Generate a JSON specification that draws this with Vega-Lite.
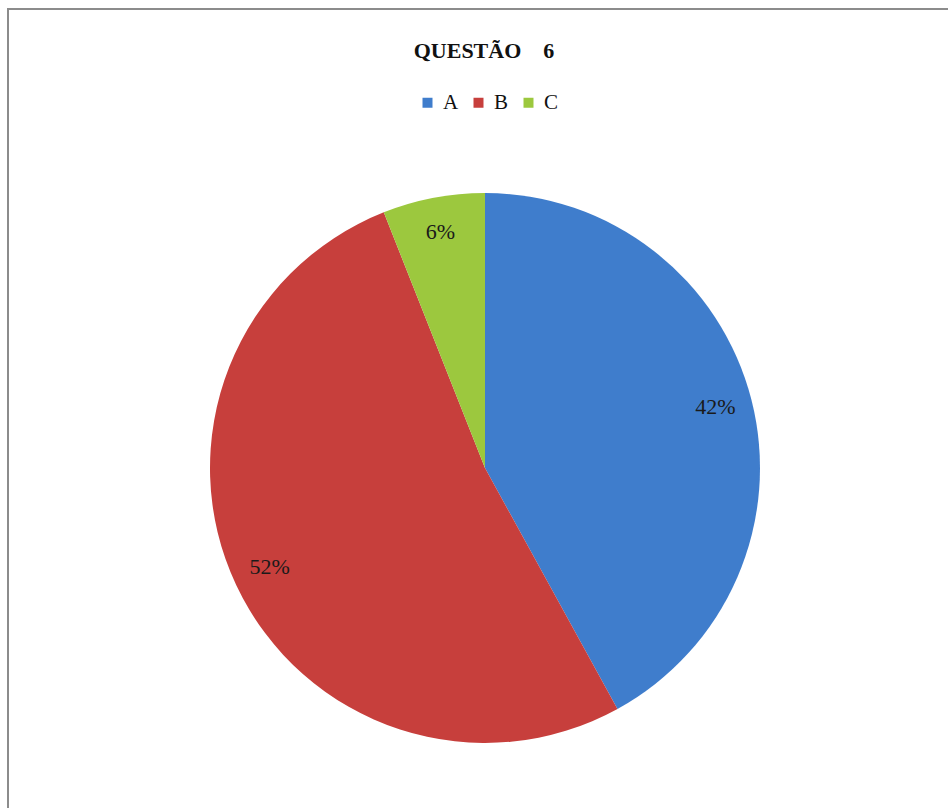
{
  "$schema": "https://vega.github.io/schema/vega-lite/v6.json",
  "autosize": {"type": "none"},
  "width": 960,
  "height": 820,
  "padding": {"left": 8, "top": 9, "right": -20, "bottom": -21},
  "background": "#ffffff",
  "view": {"stroke": "#8c8c8c", "strokeWidth": 2},
  "title": {
    "text": "QUESTÃO\u00a0\u00a0\u00a0\u00a06",
    "orient": "top",
    "anchor": "middle",
    "frame": "group",
    "offset": -54,
    "dx": -4,
    "font": "Liberation Serif",
    "fontSize": 22,
    "fontWeight": "bold",
    "color": "#111111"
  },
  "data": {
    "values": [
      {"resposta": "A", "percentual": 42, "rotulo": "42%"},
      {"resposta": "B", "percentual": 52, "rotulo": "52%"},
      {"resposta": "C", "percentual": 6, "rotulo": "6%"}
    ]
  },
  "encoding": {
    "theta": {"field": "percentual", "type": "quantitative", "stack": true},
    "order": {"field": "resposta", "type": "nominal"}
  },
  "layer": [
    {
      "mark": {
        "type": "arc",
        "outerRadius": 275,
        "x": {"expr": "width/2-3"},
        "y": {"expr": "height/2+49"}
      },
      "encoding": {
        "color": {
          "field": "resposta",
          "type": "nominal",
          "scale": {"domain": ["A", "B", "C"], "range": ["#3f7dcc", "#c73f3c", "#9cc83e"]},
          "legend": {
            "title": null,
            "orient": "none",
            "direction": "horizontal",
            "legendX": 409,
            "legendY": 83,
            "symbolType": "square",
            "symbolSize": 100,
            "symbolStrokeWidth": 0,
            "labelFont": "Liberation Serif",
            "labelFontSize": 21,
            "labelColor": "#111111",
            "labelOffset": 5,
            "columnPadding": 9,
            "padding": 0
          }
        }
      }
    },
    {
      "mark": {
        "type": "text",
        "radius": 238,
        "x": {"expr": "width/2-3"},
        "y": {"expr": "height/2+47"},
        "font": "Liberation Serif",
        "fontSize": 22,
        "color": "#1a1a1a"
      },
      "encoding": {
        "text": {"field": "rotulo", "type": "nominal"}
      }
    }
  ]
}
